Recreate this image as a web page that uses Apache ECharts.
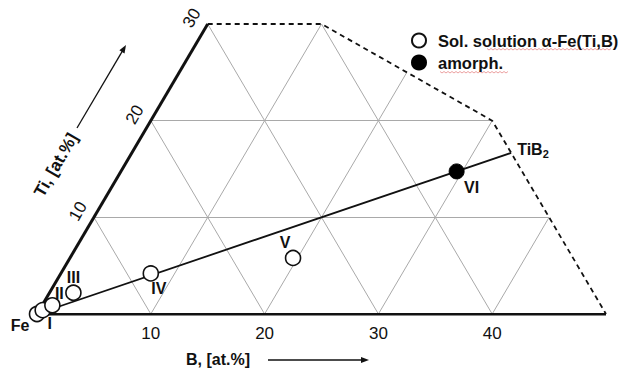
<!DOCTYPE html>
<html><head><meta charset="utf-8">
<script src="https://cdn.jsdelivr.net/npm/echarts@6/dist/echarts.min.js"></script>
<style>html,body{margin:0;padding:0;background:#fff}#c{width:619px;height:369px}</style>
</head><body><div id="c"></div>
<script>
// ---- data (ternary: B at.%, Ti at.%, Fe = balance) ----
const bTicks = [10, 20, 30, 40];
const tiTicks = [10, 20, 30];
const solNames = ['Fe', 'I', 'II', 'III', 'IV', 'V'];
const solB  = [0, 0.3, 0.9, 2.1, 7.9, 19.6];
const solTi = [0, 0.4, 0.9, 2.2, 4.2, 5.8];
const amoNames = ['VI'];
const amoB  = [29.5];
const amoTi = [14.75];
const tib2End = [33.33, 16.67];           // B, Ti where Fe–TiB2 tie line meets Fe=50
const boundaryB  = [0, 10, 30, 50];       // dashed boundary of the shown region
const boundaryTi = [30, 30, 20, 0];
// grid lines [B1,Ti1,B2,Ti2]
const gridSegs = [
  [0,10,40,10],[0,20,30,20],
  [10,0,10,30],[20,0,20,25],[30,0,30,20],[40,0,40,10],
  [0,10,10,0],[0,20,20,0],[0,30,30,0],[10,30,40,0]
];
const legSol = 'Sol. solution α-Fe(Ti,B)';
const legAmo = 'amorph.';

// ---- helpers ----
const FONT = '"Liberation Sans", Arial, Helvetica, sans-serif';
const tern = (b, ti) => [b + ti / 2, ti];
const labelOffset = {Fe:[-17,11], I:[7,13], II:[7,-12], III:[0,-15], IV:[8,15], V:[-8,-15], VI:[15,16]};

const chart = echarts.init(document.getElementById('c'), null, {renderer: 'svg'});

function pts(names, bs, tis) {
  return names.map((n, i) => ({
    name: n, value: tern(bs[i], tis[i]),
    label: {offset: labelOffset[n]}
  }));
}
const ptLabel = {
  show: true, position: 'inside', formatter: p => p.name,
  fontFamily: FONT, fontWeight: 'bold', fontSize: 16, color: '#111'
};

chart.setOption({
  animation: false,
  backgroundColor: '#fff',
  grid: {left: 37, right: 13, top: 24, bottom: 55, containLabel: false},
  xAxis: {type: 'value', min: 0, max: 50, show: false},
  yAxis: {type: 'value', min: 0, max: 30, show: false},
  legend: {
    orient: 'vertical', left: 406, top: 27, itemWidth: 28, itemHeight: 14, itemGap: 5,
    selectedMode: false,
    textStyle: {fontFamily: FONT, fontWeight: 'bold', fontSize: 16.5, color: '#111'},
    data: [{name: legSol, icon: 'circle'}, {name: legAmo, icon: 'circle'}]
  },
  series: [
    {type: 'lines', coordinateSystem: 'cartesian2d', silent: true, z: 1,
     data: gridSegs.map(g => ({coords: [tern(g[0], g[1]), tern(g[2], g[3])]})),
     lineStyle: {color: '#a9a9a9', width: 1, opacity: 1}},
    {type: 'line', silent: true, z: 2, symbol: 'none',
     data: boundaryB.map((b, i) => tern(b, boundaryTi[i])),
     lineStyle: {color: '#111', width: 1.8, type: [5, 4]}},
    {type: 'lines', coordinateSystem: 'cartesian2d', silent: true, z: 3,
     data: [{coords: [tern(0, 0), tern(50, 0)]}, {coords: [tern(0, 0), tern(0, 30)]}],
     lineStyle: {color: '#111', width: 3, opacity: 1}},
    {type: 'line', silent: true, z: 3, symbol: 'none',
     data: [tern(0, 0), tern(tib2End[0], tib2End[1])],
     lineStyle: {color: '#111', width: 1.8}},
    {type: 'scatter', name: legSol, z: 5, symbol: 'circle', symbolSize: 15,
     itemStyle: {color: '#fff', borderColor: '#111', borderWidth: 1.6, opacity: 1},
     label: ptLabel, data: pts(solNames, solB, solTi)},
    {type: 'scatter', name: legAmo, z: 5, symbol: 'circle', symbolSize: 15,
     itemStyle: {color: '#000', borderColor: '#000', borderWidth: 1, opacity: 1},
     label: ptLabel, data: pts(amoNames, amoB, amoTi)}
  ]
});

// ---- tick labels, titles, arrows via pixel conversion ----
const px = (b, ti) => chart.convertToPixel({gridIndex: 0}, tern(b, ti));
const g = [];
bTicks.forEach(v => {
  const p = px(v, 0);
  g.push({type: 'text', x: p[0], y: p[1] + 19, silent: true,
    style: {text: String(v), fontFamily: FONT, fontSize: 17, fill: '#111', align: 'center', verticalAlign: 'middle'}});
});
const rot = Math.PI / 3;
tiTicks.forEach(v => {
  const p = px(0, v);
  g.push({type: 'text', x: p[0] - 16, y: p[1] - 6, rotation: rot, silent: true,
    style: {text: String(v), fontFamily: FONT, fontSize: 17, fill: '#111', align: 'center', verticalAlign: 'middle'}});
});
// TiB2 label
const e = px(tib2End[0], tib2End[1]);
g.push({type: 'text', x: e[0] + 6, y: e[1] - 3, silent: true,
  style: {text: 'TiB{s|2}', fontFamily: FONT, fontSize: 16, fontWeight: 'bold', fill: '#111',
    align: 'left', verticalAlign: 'middle',
    rich: {s: {fontFamily: FONT, fontSize: 11, fontWeight: 'bold', fill: '#111', padding: [8, 0, 0, 0]}}}});
// B title + arrow
g.push({type: 'text', x: 218, y: 359, silent: true,
  style: {text: 'B, [at.%]', fontFamily: FONT, fontSize: 16, fontWeight: 'bold', fill: '#111', align: 'center', verticalAlign: 'middle'}});
g.push({type: 'line', silent: true, shape: {x1: 268, y1: 360, x2: 362, y2: 360}, style: {stroke: '#111', lineWidth: 1.3}});
g.push({type: 'polygon', silent: true, shape: {points: [[369, 360], [361, 357], [361, 363]]}, style: {fill: '#111'}});
// Ti title + arrow
g.push({type: 'text', x: 56, y: 165, rotation: rot, silent: true,
  style: {text: 'Ti, [at.%]', fontFamily: FONT, fontSize: 17, fontWeight: 'bold', fill: '#111', align: 'center', verticalAlign: 'middle'}});
const a0 = [77, 128], a1 = [126, 45];
const dx = a1[0] - a0[0], dy = a1[1] - a0[1], L = Math.hypot(dx, dy), ux = dx / L, uy = dy / L;
g.push({type: 'line', silent: true, shape: {x1: a0[0], y1: a0[1], x2: a1[0] - ux * 6, y2: a1[1] - uy * 6}, style: {stroke: '#111', lineWidth: 1.3}});
g.push({type: 'polygon', silent: true, shape: {points: [a1,
  [a1[0] - ux * 8 - uy * 3, a1[1] - uy * 8 + ux * 3],
  [a1[0] - ux * 8 + uy * 3, a1[1] - uy * 8 - ux * 3]]}, style: {fill: '#111'}});
// spell-check style squiggles under legend words
function squiggle(x1, x2, y) {
  const p = [];
  for (let x = x1, k = 0; x <= x2; x += 2, k++) p.push([x, y + (k % 2 ? 1 : -0.5)]);
  return {type: 'polyline', silent: true, shape: {points: p}, style: {stroke: '#e06a6a', lineWidth: 0.8, fill: null, opacity: 0.8}};
}
g.push(squiggle(487, 612, 49));
g.push(squiggle(440, 508, 72));
chart.setOption({graphic: g});
</script></body></html>
